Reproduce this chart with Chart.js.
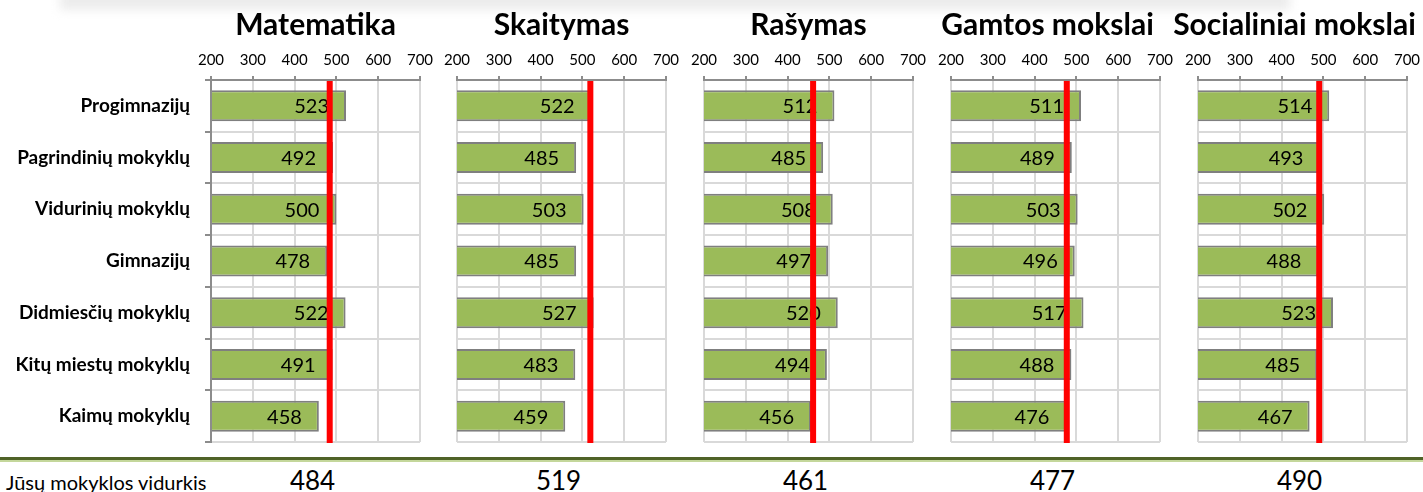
<!DOCTYPE html>
<html>
<head>
<meta charset="utf-8">
<script src="https://cdn.jsdelivr.net/npm/chart.js@4/dist/chart.umd.min.js"></script>
<style>
  body { margin: 0; width: 1423px; height: 492px; overflow: hidden; background: #fff; position: relative; font-family: Lato, sans-serif; }
  canvas { position: absolute; top: 0; }
  .shade { position: absolute; left: 60px; top: -8px; width: 1230px; height: 18px; background: #ececec; filter: blur(5px); }
  .rule { position: absolute; left: 0; top: 457px; width: 1423px; height: 3px; background: #4f6228; border-bottom: 2px solid #c4d79b; }
  .foot { position: absolute; top: 472px; left: 6px; font-size: 20px; line-height: 20px; color: #000; white-space: nowrap; }
  .avg { position: absolute; top: 468px; font-size: 26px; line-height: 25px; color: #000; transform: translateX(-50%); }
</style>
</head>
<body>
<div class="shade"></div>
<div id="charts"></div>
<div class="rule"></div>
<div class="foot" id="footLabel"></div>
<div id="avgs"></div>
<script>
// ---== DATA ==---
const categories = ['Progimnazijų', 'Pagrindinių mokyklų', 'Vidurinių mokyklų', 'Gimnazijų', 'Didmiesčių mokyklų', 'Kitų miestų mokyklų', 'Kaimų mokyklų'];
const subjects = ['Matematika', 'Skaitymas', 'Rašymas', 'Gamtos mokslai', 'Socialiniai mokslai'];
const matematika = [523, 492, 500, 478, 522, 491, 458];
const skaitymas = [522, 485, 503, 485, 527, 483, 459];
const rasymas = [512, 485, 508, 497, 520, 494, 456];
const gamtos = [511, 489, 503, 496, 517, 488, 476];
const socialiniai = [514, 493, 502, 488, 523, 485, 467];
const schoolAverages = [484, 519, 461, 477, 490];
const axisMin = 200;
const axisMax = 700;
const axisStep = 100;
const footText = 'Jūsų mokyklos vidurkis';

const seriesList = [matematika, skaitymas, rasymas, gamtos, socialiniai];

// ---== LAYOUT ==---
const plotLefts = [211, 457, 704, 951, 1198];
const plotWidth = 209;
const side = 30;
const labelWidth = 211;
const canvasHeight = 444;
const titleShift = [0, 0, 0, -8, -8];

// value labels, red average line and title
const extrasPlugin = {
  id: 'extras',
  afterDatasetsDraw(chart, args, opts) {
    const ctx = chart.ctx;
    const area = chart.chartArea;
    const values = chart.data.datasets[0].data;
    ctx.save();
    ctx.font = '20px Lato';
    ctx.fillStyle = '#000';
    ctx.textAlign = 'right';
    ctx.textBaseline = 'middle';
    chart.getDatasetMeta(0).data.forEach((bar, i) => {
      ctx.fillText(values[i], bar.x - 17, bar.y + 1);
    });
    const x = chart.scales.x.getPixelForValue(opts.average);
    ctx.fillStyle = '#ff0000';
    ctx.fillRect(x - 3, area.top, 6, area.bottom - area.top + 1);
    ctx.font = 'bold 30px Lato';
    ctx.fillStyle = '#000';
    ctx.textAlign = 'center';
    ctx.textBaseline = 'alphabetic';
    ctx.fillText(opts.title, (area.left + area.right) / 2 + opts.shift, 35);
    ctx.restore();
  }
};

const drawCharts = () => {
  const wrap = document.querySelector('#charts');
  subjects.forEach((subject, i) => {
    const first = i === 0;
    const canvas = document.createElement('canvas');
    canvas.width = (first ? labelWidth : side) + plotWidth + side;
    canvas.height = canvasHeight;
    canvas.style.left = (first ? 0 : plotLefts[i] - side) + 'px';
    wrap.appendChild(canvas);
    new Chart(canvas, {
      type: 'bar',
      data: {
        labels: categories,
        datasets: [{
          data: seriesList[i],
          backgroundColor: '#9bbb59',
          borderColor: '#7f7f7f',
          borderWidth: 2,
          borderSkipped: false,
          barPercentage: 0.6,
          categoryPercentage: 1
        }]
      },
      options: {
        indexAxis: 'y',
        responsive: false,
        animation: false,
        layout: { padding: { left: first ? 0 : side, right: side, top: 0, bottom: 2 } },
        plugins: {
          legend: { display: false },
          tooltip: { enabled: false },
          extras: { average: schoolAverages[i], title: subject, shift: titleShift[i] }
        },
        scales: {
          x: {
            position: 'top',
            min: axisMin,
            max: axisMax,
            ticks: { stepSize: axisStep, color: '#000', font: { family: 'Lato', size: 15 }, padding: 7, maxRotation: 0 },
            grid: { color: '#d9d9d9', lineWidth: 2, tickColor: '#8c8c8c', tickLength: 4 },
            border: { color: '#8c8c8c', width: 2, z: 1 },
            afterFit: (s) => { s.height = 80; }
          },
          y: {
            ticks: { display: first, color: '#000', font: { family: 'Lato', size: 19, weight: 'bold' }, padding: 15 },
            grid: { color: '#d9d9d9', lineWidth: 2, drawTicks: first, tickColor: '#8c8c8c', tickLength: 6 },
            border: { display: first, color: '#8c8c8c', width: 2, z: 1 },
            afterFit: (s) => {
              s.width = first ? labelWidth : 0;
              s.paddingTop = 0;
              s.paddingBottom = 0;
            }
          }
        }
      },
      plugins: [extrasPlugin]
    });
  });
};

// bottom row
document.querySelector('#footLabel').textContent = footText;
const avgs = document.querySelector('#avgs');
schoolAverages.forEach((v, i) => {
  const d = document.createElement('div');
  d.className = 'avg';
  d.textContent = v;
  d.style.left = (plotLefts[i] + plotWidth / 2 - 3) + 'px';
  avgs.appendChild(d);
});

Promise.all([
  document.fonts.load('20px Lato'),
  document.fonts.load('bold 30px Lato')
]).then(drawCharts, drawCharts);
</script>
</body>
</html>
